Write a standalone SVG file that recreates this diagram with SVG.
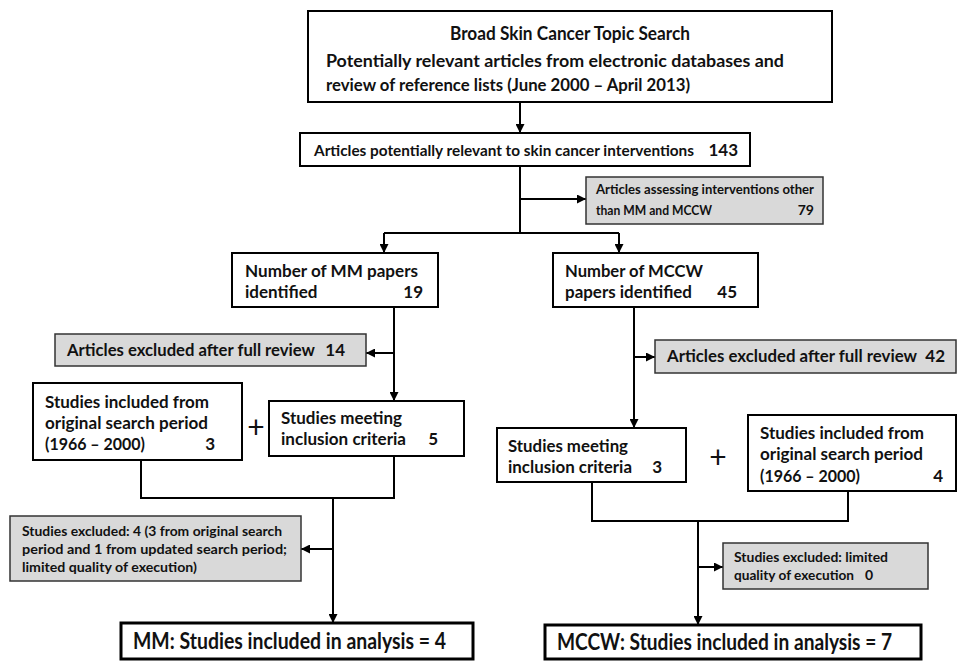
<svg xmlns="http://www.w3.org/2000/svg" width="958" height="661" viewBox="0 0 958 661">
<defs>
<marker id="ah" viewBox="0 0 10 10" refX="10" refY="5" markerWidth="4.5" markerHeight="4.5" orient="auto" markerUnits="strokeWidth">
<path d="M0,0 L10,5 L0,10 z" fill="#000"/>
</marker>
<style>
.box{fill:#fff;stroke:#000;stroke-width:2}
.fbox{fill:#fff;stroke:#000;stroke-width:3}
.gbox{fill:#d9d9d9;stroke:#333;stroke-width:1.5}
.ln{fill:none;stroke:#000;stroke-width:2}
.ar{fill:none;stroke:#000;stroke-width:2;marker-end:url(#ah)}
text{font-family:Lato,"Liberation Sans",sans-serif;font-weight:bold;fill:#111}
.t19{font-size:19.5px}
.t17{font-size:17px}
.t16{font-size:16.5px}
.t15{font-size:15.5px}
.t14{font-size:14px}
.t22{font-size:22px}
.plus{font-size:30px;font-weight:normal}
</style>
</defs>
<rect width="958" height="661" fill="#fff"/>
<g id="connectors">
<line class="ar" x1="520" y1="102" x2="520" y2="133"/>
<line class="ln" x1="520" y1="166" x2="520" y2="233"/>
<line class="ar" x1="520" y1="199" x2="586" y2="199"/>
<polyline class="ln" points="384,233 619,233"/>
<line class="ar" x1="384" y1="233" x2="384" y2="253"/>
<line class="ar" x1="619" y1="233" x2="619" y2="253"/>
<line class="ar" x1="394" y1="307" x2="394" y2="401"/>
<line class="ar" x1="394" y1="353" x2="366" y2="353"/>
<line class="ar" x1="634" y1="307" x2="634" y2="428"/>
<line class="ar" x1="634" y1="357" x2="655" y2="357"/>
<polyline class="ln" points="141,460 141,498 394,498 394,456"/>
<line class="ar" x1="333" y1="498" x2="333" y2="623"/>
<line class="ar" x1="333" y1="549" x2="301" y2="549"/>
<polyline class="ln" points="592,482 592,521 848,521 848,491"/>
<line class="ar" x1="698" y1="521" x2="698" y2="625"/>
<line class="ar" x1="698" y1="567" x2="723" y2="567"/>
</g>
<g id="search">
<rect class="box" x="308" y="11" width="524" height="91"/>
<text class="t19" x="570" y="40" text-anchor="middle" textLength="240" lengthAdjust="spacingAndGlyphs">Broad Skin Cancer Topic Search</text>
<text class="t16" x="326" y="67" textLength="458" lengthAdjust="spacingAndGlyphs">Potentially relevant articles from electronic databases and</text>
<text class="t16" x="326" y="91" textLength="364" lengthAdjust="spacingAndGlyphs">review of reference lists (June 2000 – April 2013)</text>
</g>
<g id="relevant">
<rect class="box" x="300" y="133" width="450" height="33"/>
<text class="t15" x="314" y="156" textLength="380" lengthAdjust="spacingAndGlyphs">Articles potentially relevant to skin cancer interventions</text>
<text class="t17" x="738" y="156" text-anchor="end">143</text>
</g>
<g id="other">
<rect class="gbox" x="586" y="177" width="237" height="47"/>
<text class="t14" x="596" y="194" textLength="218" lengthAdjust="spacingAndGlyphs">Articles assessing  interventions other</text>
<text class="t14" x="596" y="215" textLength="116" lengthAdjust="spacingAndGlyphs">than MM  and MCCW</text>
<text class="t14" x="814" y="215" text-anchor="end">79</text>
</g>
<g id="mm-papers">
<rect class="box" x="232" y="253" width="206" height="54"/>
<text class="t17" x="245" y="277" textLength="173" lengthAdjust="spacingAndGlyphs">Number of  MM papers</text>
<text class="t17" x="245" y="298">identified</text>
<text class="t17" x="423" y="298" text-anchor="end">19</text>
</g>
<g id="mccw-papers">
<rect class="box" x="553" y="253" width="205" height="54"/>
<text class="t17" x="565" y="277" textLength="138" lengthAdjust="spacingAndGlyphs">Number of  MCCW</text>
<text class="t17" x="565" y="298" textLength="127" lengthAdjust="spacingAndGlyphs">papers identified</text>
<text class="t17" x="737" y="298" text-anchor="end">45</text>
</g>
<g id="mm-excluded">
<rect class="gbox" x="55" y="334" width="311" height="32"/>
<text class="t17" x="67" y="356" textLength="248" lengthAdjust="spacingAndGlyphs">Articles excluded after full review</text>
<text class="t17" x="345" y="356" text-anchor="end">14</text>
</g>
<g id="mccw-excluded">
<rect class="gbox" x="655" y="340" width="301" height="33"/>
<text class="t17" x="667" y="362" textLength="250" lengthAdjust="spacingAndGlyphs">Articles excluded after full review</text>
<text class="t17" x="945" y="362" text-anchor="end">42</text>
</g>
<g id="mm-original">
<rect class="box" x="33" y="383" width="209" height="77"/>
<text class="t17" x="45" y="408" textLength="164" lengthAdjust="spacingAndGlyphs">Studies included from</text>
<text class="t17" x="45" y="429" textLength="163" lengthAdjust="spacingAndGlyphs">original search period</text>
<text class="t17" x="45" y="450" textLength="100" lengthAdjust="spacingAndGlyphs">(1966 – 2000)</text>
<text class="t17" x="215" y="450" text-anchor="end">3</text>
</g>
<text class="plus" x="256" y="438" text-anchor="middle">+</text>
<g id="mm-meeting">
<rect class="box" x="269" y="401" width="195" height="55"/>
<text class="t17" x="281" y="424" textLength="121" lengthAdjust="spacingAndGlyphs">Studies meeting</text>
<text class="t17" x="281" y="445" textLength="125" lengthAdjust="spacingAndGlyphs">inclusion criteria</text>
<text class="t17" x="438" y="445" text-anchor="end">5</text>
</g>
<g id="mccw-meeting">
<rect class="box" x="497" y="428" width="189" height="54"/>
<text class="t17" x="508" y="452" textLength="120" lengthAdjust="spacingAndGlyphs">Studies meeting</text>
<text class="t17" x="508" y="473" textLength="124" lengthAdjust="spacingAndGlyphs">inclusion criteria</text>
<text class="t17" x="662" y="473" text-anchor="end">3</text>
</g>
<text class="plus" x="718" y="468" text-anchor="middle">+</text>
<g id="mccw-original">
<rect class="box" x="748" y="415" width="208" height="76"/>
<text class="t17" x="760" y="439" textLength="164" lengthAdjust="spacingAndGlyphs">Studies included from</text>
<text class="t17" x="760" y="460" textLength="163" lengthAdjust="spacingAndGlyphs">original search period</text>
<text class="t17" x="760" y="482" textLength="100" lengthAdjust="spacingAndGlyphs">(1966 – 2000)</text>
<text class="t17" x="943" y="482" text-anchor="end">4</text>
</g>
<g id="mm-quality">
<rect class="gbox" x="10" y="516" width="291" height="65"/>
<text class="t14" x="22" y="536" textLength="260" lengthAdjust="spacingAndGlyphs">Studies excluded: 4 (3 from original  search</text>
<text class="t14" x="22" y="554" textLength="265" lengthAdjust="spacingAndGlyphs">period and 1 from updated search period;</text>
<text class="t14" x="22" y="572" textLength="175" lengthAdjust="spacingAndGlyphs">limited quality  of  execution)</text>
</g>
<g id="mccw-quality">
<rect class="gbox" x="723" y="543" width="205" height="46"/>
<text class="t14" x="734" y="562" textLength="154" lengthAdjust="spacingAndGlyphs">Studies excluded: limited</text>
<text class="t14" x="734" y="580" textLength="120" lengthAdjust="spacingAndGlyphs">quality of execution</text>
<text class="t14" x="873" y="580" text-anchor="end">0</text>
</g>
<g id="mm-final">
<rect class="fbox" x="121" y="623" width="352" height="36"/>
<text class="t22" x="133" y="649" textLength="313" lengthAdjust="spacingAndGlyphs">MM: Studies included in analysis = 4</text>
</g>
<g id="mccw-final">
<rect class="fbox" x="545" y="625" width="376" height="34"/>
<text class="t22" x="557" y="650" textLength="335" lengthAdjust="spacingAndGlyphs">MCCW: Studies included in analysis = 7</text>
</g>
</svg>
